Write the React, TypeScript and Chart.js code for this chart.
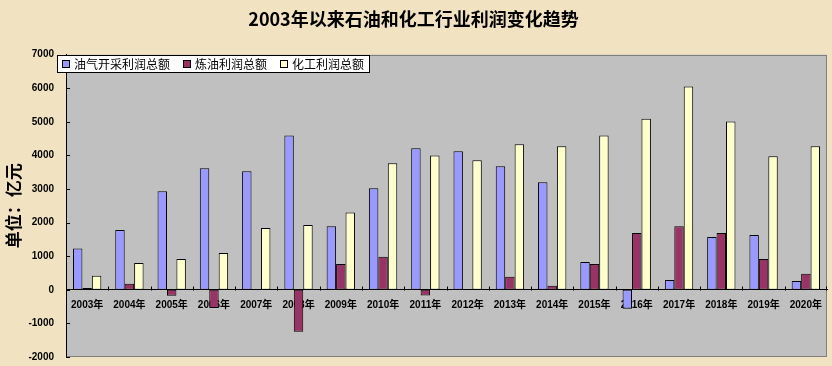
import { useEffect, useRef } from 'react';
import { Chart, registerables } from 'chart.js';

Chart.register(...registerables);

const categories = [
  '2003年', '2004年', '2005年', '2006年', '2007年', '2008年', '2009年', '2010年', '2011年',
  '2012年', '2013年', '2014年', '2015年', '2016年', '2017年', '2018年', '2019年', '2020年',
];
const upstreamProfit = [1230, 1780, 2935, 3615, 3530, 4595, 1895, 3025, 4210, 4120, 3675, 3200, 830, -565, 295, 1570, 1630, 265];
const refiningProfit = [50, 180, -180, -540, 20, -1245, 770, 980, -170, 0, 385, 120, 770, 1690, 1895, 1690, 920, 475];
const chemicalProfit = [415, 800, 920, 1095, 1840, 1925, 2300, 3765, 4000, 3855, 4330, 4270, 4595, 5090, 6050, 5010, 3975, 4270];
const seriesNames = ['油气开采利润总额', '炼油利润总额', '化工利润总额'];
const yMin = -2000;
const yMax = 7000;
const yStep = 1000;

const decorPlugin = {
  id: 'decor',
  beforeDraw(chart: any) {
    const { ctx, chartArea: a } = chart;
    ctx.save();
    ctx.fillStyle = '#C0C0C0';
    ctx.fillRect(a.left, a.top, a.right - a.left, a.bottom - a.top);
    ctx.strokeStyle = '#808080';
    ctx.lineWidth = 1;
    ctx.strokeRect(Math.round(a.left) + 0.5, Math.round(a.top) + 0.5, Math.round(a.right - a.left) - 1, Math.round(a.bottom - a.top) - 1);
    ctx.restore();
  },
  afterDatasetsDraw(chart: any) {
    const { ctx, chartArea: a } = chart;
    const y = chart.scales.y;
    const x = chart.scales.x;
    ctx.save();
    ctx.strokeStyle = '#000';
    ctx.lineWidth = 1;
    ctx.beginPath();
    y.ticks.forEach((t: any) => {
      const py = Math.round(y.getPixelForValue(t.value)) + 0.5;
      ctx.moveTo(a.left, py);
      ctx.lineTo(a.left + 4, py);
    });
    const zy = Math.round(y.getPixelForValue(0)) + 0.5;
    const n = categories.length;
    for (let i = 1; i <= n; i++) {
      const px = i < n
        ? (x.getPixelForValue(i - 1) + x.getPixelForValue(i)) / 2
        : a.right - 1;
      const rx = Math.round(px) + 0.5;
      ctx.moveTo(rx, zy - 4);
      ctx.lineTo(rx, zy);
    }
    ctx.stroke();
    ctx.restore();
  },
  afterDraw(chart: any) {
    const { ctx, chartArea: a } = chart;
    const ds = chart.data.datasets;
    ctx.save();
    ctx.font = '12px "Noto Sans CJK SC", sans-serif';
    const widths = ds.map((d: any) => ctx.measureText(d.label).width);
    const bx = Math.round(a.left) - 9;
    const by = Math.round(a.top);
    const bh = 18;
    let total = 5;
    widths.forEach((w: number, i: number) => {
      total += 12 + w + (i < widths.length - 1 ? 13 : 6);
    });
    ctx.fillStyle = '#FFFFFF';
    ctx.fillRect(bx, by, total, bh);
    ctx.strokeStyle = '#000';
    ctx.lineWidth = 1;
    ctx.strokeRect(bx + 0.5, by + 0.5, total - 1, bh - 1);
    let cx = bx + 5;
    ds.forEach((d: any, i: number) => {
      ctx.fillStyle = d.backgroundColor;
      ctx.fillRect(cx, by + 5, 8, 8);
      ctx.strokeRect(cx + 0.5, by + 5.5, 7, 7);
      ctx.fillStyle = '#000';
      ctx.textBaseline = 'middle';
      ctx.textAlign = 'left';
      ctx.fillText(d.label, cx + 12, by + bh / 2 + 0.5);
      cx += 12 + widths[i] + 13;
    });
    ctx.restore();
  },
};

export default function App() {
  const ref = useRef<HTMLCanvasElement>(null);
  useEffect(() => {
    if (!ref.current) return;
    const tickFont = { family: '"Liberation Sans", "Noto Sans CJK SC", Arial, sans-serif', size: 10, weight: 'bold' as const };
    const common = { borderColor: '#000000', borderWidth: 1, borderSkipped: false as const, categoryPercentage: 0.67, barPercentage: 1.0 };
    const chart = new Chart(ref.current, {
      type: 'bar',
      data: {
        labels: categories,
        datasets: [
          { label: seriesNames[0], data: upstreamProfit, backgroundColor: '#9999FF', ...common },
          { label: seriesNames[1], data: refiningProfit, backgroundColor: '#993366', ...common },
          { label: seriesNames[2], data: chemicalProfit, backgroundColor: '#FFFFCC', ...common },
        ],
      },
      options: {
        animation: false,
        responsive: true,
        maintainAspectRatio: false,
        layout: { padding: { left: 0, right: 5, top: 0, bottom: 9 } },
        plugins: {
          legend: { display: false },
          tooltip: { enabled: false },
          title: {
            display: true,
            text: '2003年以来石油和化工行业利润变化趋势',
            color: '#000',
            font: { family: '"Noto Sans CJK SC", sans-serif', size: 18, weight: 'bold' },
            padding: { top: 8, bottom: 25 },
          },
        },
        scales: {
          x: {
            type: 'category',
            position: { y: 0 } as any,
            grid: { display: false },
            border: { display: true, color: '#000', width: 1 },
            ticks: { color: '#000', font: tickFont, padding: 1, maxRotation: 0, autoSkip: false },
            afterFit: (s: any) => { s.height = 0; s.paddingBottom = 0; s.paddingTop = 0; },
          },
          y: {
            min: yMin,
            max: yMax,
            grid: { display: false, drawTicks: false },
            border: { display: true, color: '#000', width: 1 },
            ticks: {
              stepSize: yStep,
              color: '#000',
              font: tickFont,
              padding: 12,
              callback: (v: any) => String(v),
            },
            title: {
              display: true,
              text: '单位：亿元',
              color: '#000',
              font: { family: '"Noto Sans CJK SC", sans-serif', size: 17, weight: 'bold' },
              padding: { top: 3, bottom: 0 },
            },
            afterFit: (s: any) => { s.width = 66; s.paddingTop = 0; s.paddingBottom = 0; },
          },
        },
      },
      plugins: [decorPlugin],
    });
    return () => chart.destroy();
  }, []);
  return (
    <div style={{ position: 'fixed', left: 0, top: 0, width: 832, height: 366, background: '#F1E3C1' }}>
      <canvas ref={ref} style={{ width: '832px', height: '366px' }} />
    </div>
  );
}
